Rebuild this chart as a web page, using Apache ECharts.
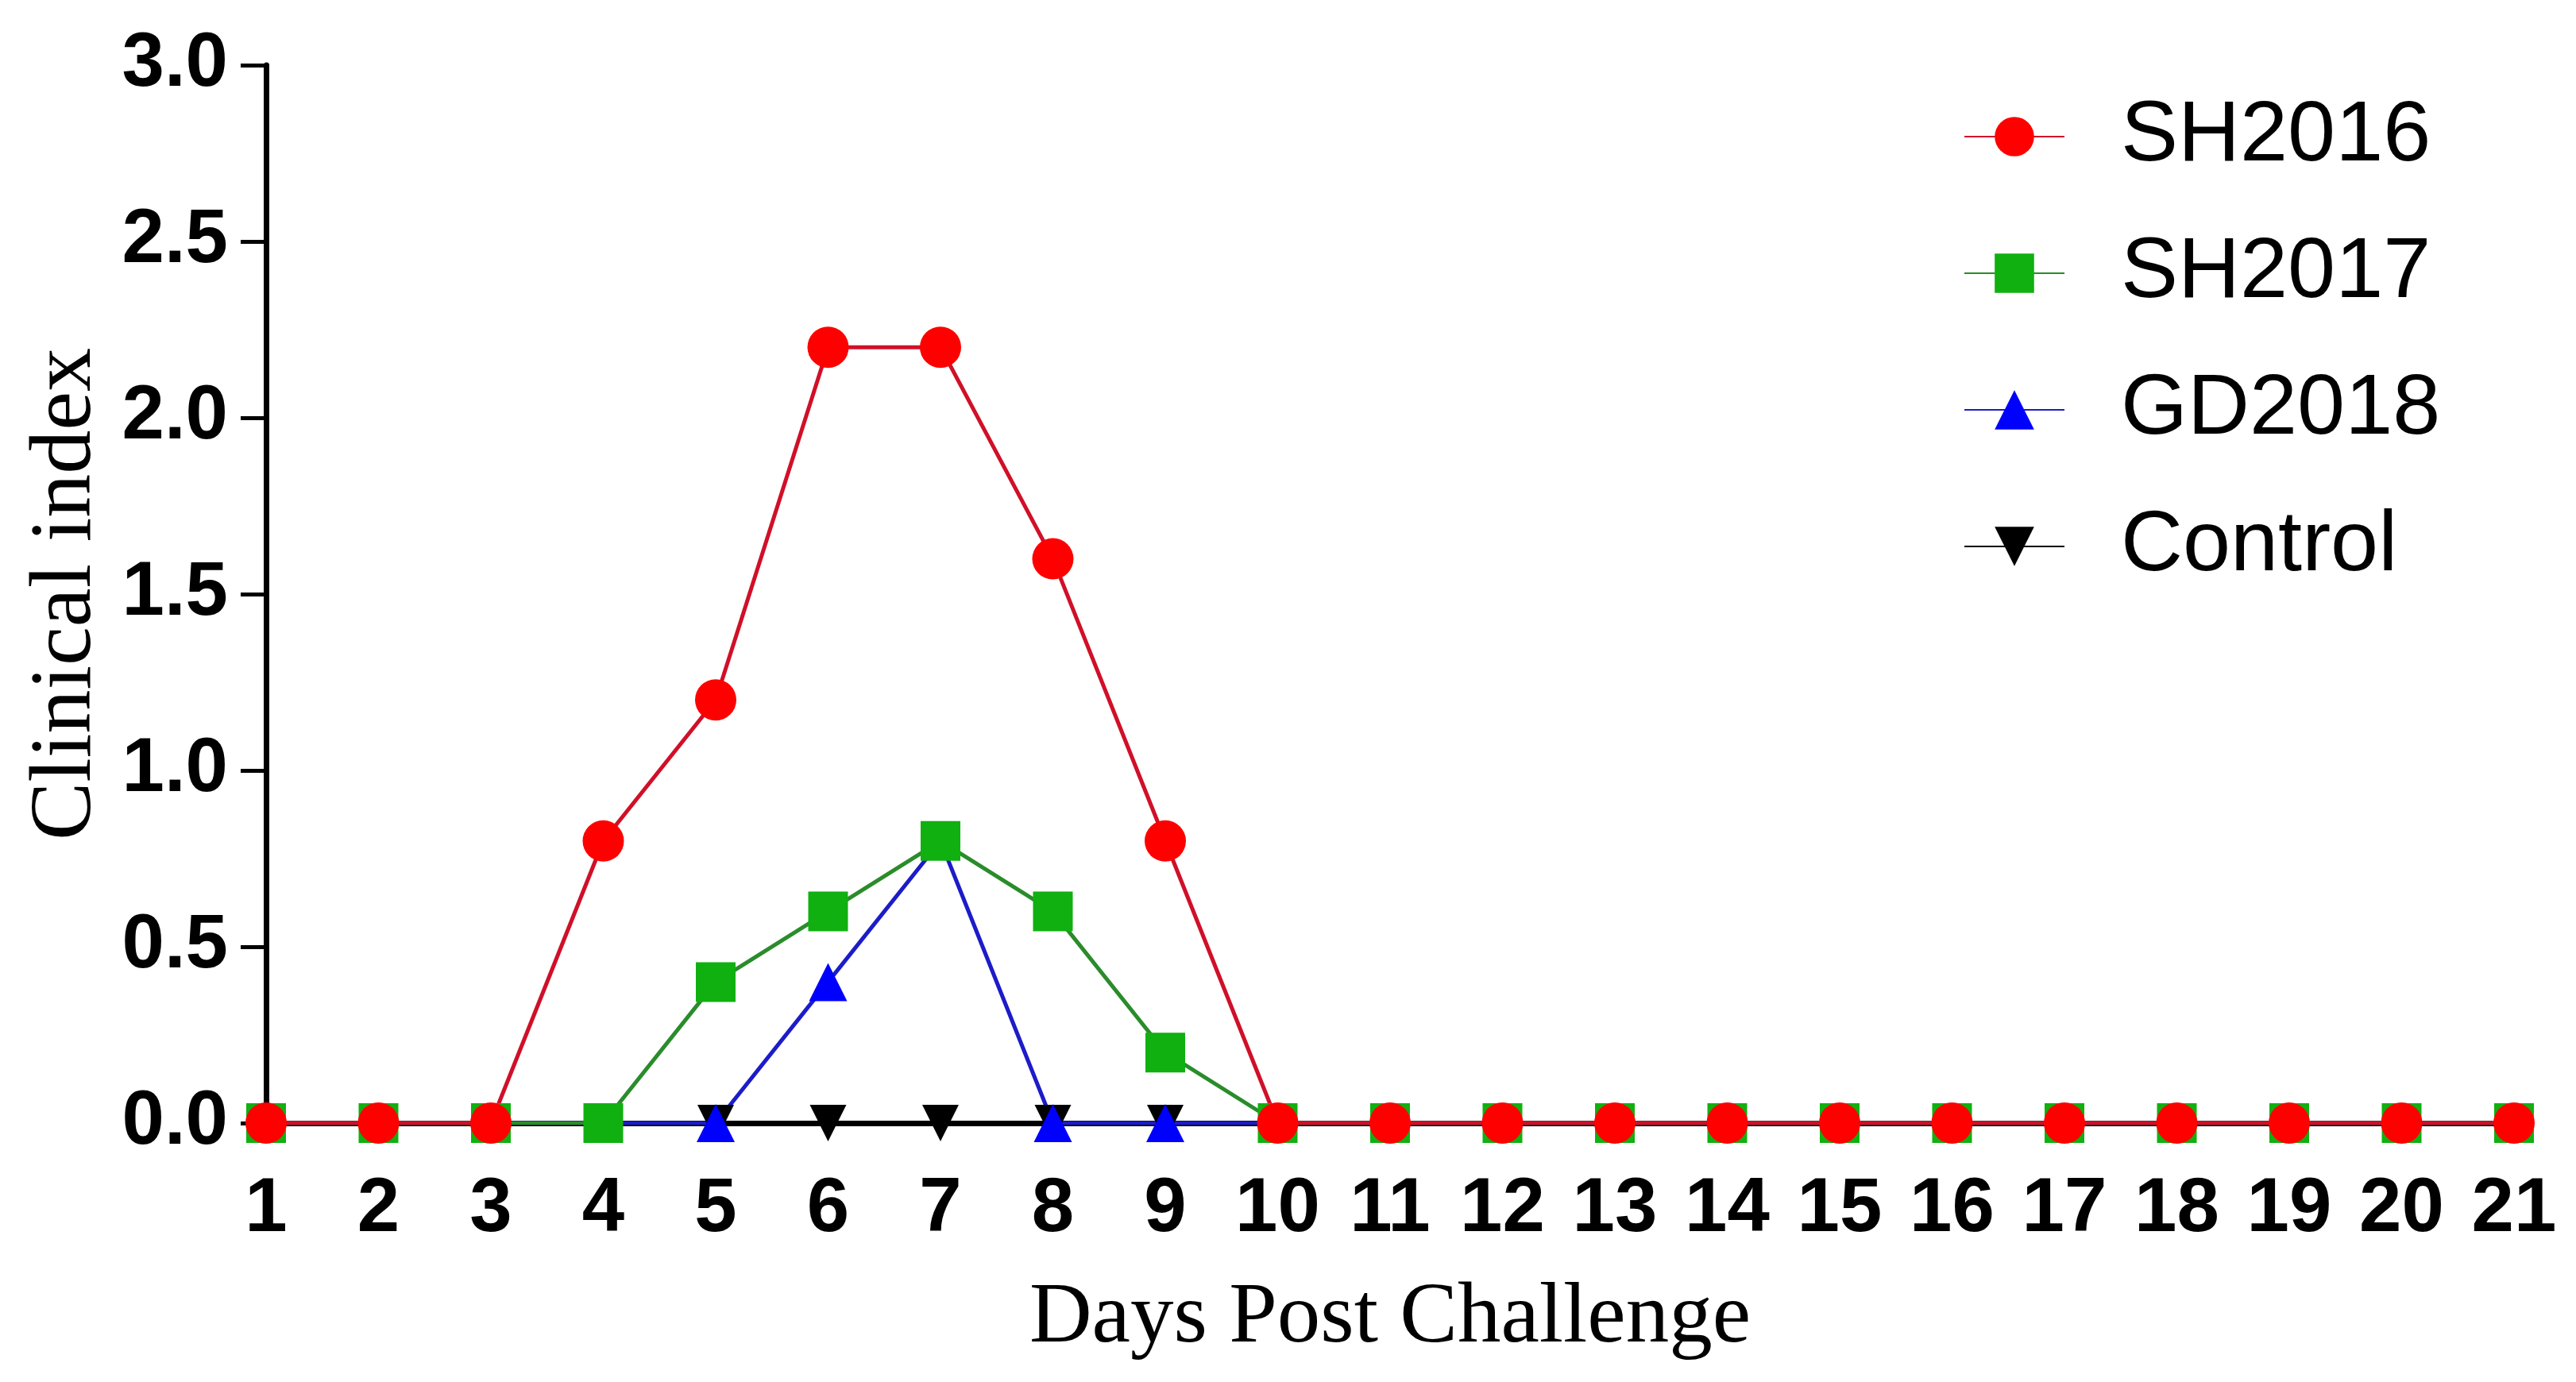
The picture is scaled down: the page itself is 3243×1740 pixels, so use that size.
<!DOCTYPE html>
<html>
<head>
<meta charset="utf-8">
<script src="https://cdn.jsdelivr.net/npm/echarts@6/dist/echarts.min.js"></script>
<style>
html,body{margin:0;padding:0;background:#fff;}
#chart{width:3243px;height:1740px;}
</style>
</head>
<body>
<div id="chart"></div>
<script>
const days = [1,2,3,4,5,6,7,8,9,10,11,12,13,14,15,16,17,18,19,20,21];
const sh2016 = [0,0,0,0.8,1.2,2.2,2.2,1.6,0.8,0,0,0,0,0,0,0,0,0,0,0,0];
const sh2017 = [0,0,0,0,0.4,0.6,0.8,0.6,0.2,0,0,0,0,0,0,0,0,0,0,0,0];
const gd2018 = [0,0,0,0,0,0.4,0.8,0,0,0,0,0,0,0,0,0,0,0,0,0,0];
const control = [0,0,0,0,0,0,0,0,0,0,0,0,0,0,0,0,0,0,0,0,0];
const seriesNames = ['SH2016','SH2017','GD2018','Control'];
const yTicks = [0,0.5,1,1.5,2,2.5,3];

function pairs(vals){ return days.map((d,i)=>[d, vals[i]]); }

const chart = echarts.init(document.getElementById('chart'));
const sansBold = {fontFamily:'"Liberation Sans", Arial, sans-serif', fontWeight:'bold', fontSize:96, color:'#000'};

chart.setOption({
  animation:false,
  backgroundColor:'#fff',
  grid:{left:335, right:78, top:82, bottom:326, containLabel:false},
  legend:{
    orient:'vertical',
    left:2467, top:113,
    itemWidth:126, itemHeight:62, itemGap:64,
    data:seriesNames,
    textStyle:{fontFamily:'"Liberation Sans", Arial, sans-serif', fontSize:108, color:'#000', lineHeight:108, padding:[0,0,0,66]}
  },
  xAxis:{
    type:'value', min:1, max:21, interval:1,
    name:'Days Post Challenge', nameLocation:'middle', nameGap:192,
    nameTextStyle:{fontFamily:'"Liberation Serif", "Times New Roman", serif', fontSize:109, color:'#000'},
    axisLine:{show:true, lineStyle:{color:'#000', width:7}},
    axisTick:{show:true, inside:false, length:16, lineStyle:{color:'#000', width:5}},
    axisLabel:Object.assign({margin:62}, sansBold),
    splitLine:{show:false}
  },
  yAxis:{
    type:'value', min:0, max:3, interval:0.5,
    name:'Clinical index', nameLocation:'middle', nameGap:196,
    nameTextStyle:{fontFamily:'"Liberation Serif", "Times New Roman", serif', fontSize:110, color:'#000'},
    axisLine:{show:true, lineStyle:{color:'#000', width:7}},
    axisTick:{show:true, inside:false, length:32, lineStyle:{color:'#000', width:5}},
    axisLabel:Object.assign({margin:48, formatter:v=>v.toFixed(1)}, sansBold),
    splitLine:{show:false}
  },
  series:[
    {name:'Control', type:'line', data:pairs(control), symbol:'triangle', symbolRotate:180, symbolSize:46,
     lineStyle:{color:'#000', width:5}, itemStyle:{color:'#000'}},
    {name:'GD2018', type:'line', data:pairs(gd2018), symbol:'triangle', symbolSize:48,
     lineStyle:{color:'#1c1cc8', width:5}, itemStyle:{color:'#0000ff'}},
    {name:'SH2017', type:'line', data:pairs(sh2017), symbol:'rect', symbolSize:50,
     lineStyle:{color:'#2a8c2a', width:5}, itemStyle:{color:'#10b010'}},
    {name:'SH2016', type:'line', data:pairs(sh2016), symbol:'circle', symbolSize:52,
     lineStyle:{color:'#d01028', width:5}, itemStyle:{color:'#ff0000'}}
  ]
});
</script>
</body>
</html>
